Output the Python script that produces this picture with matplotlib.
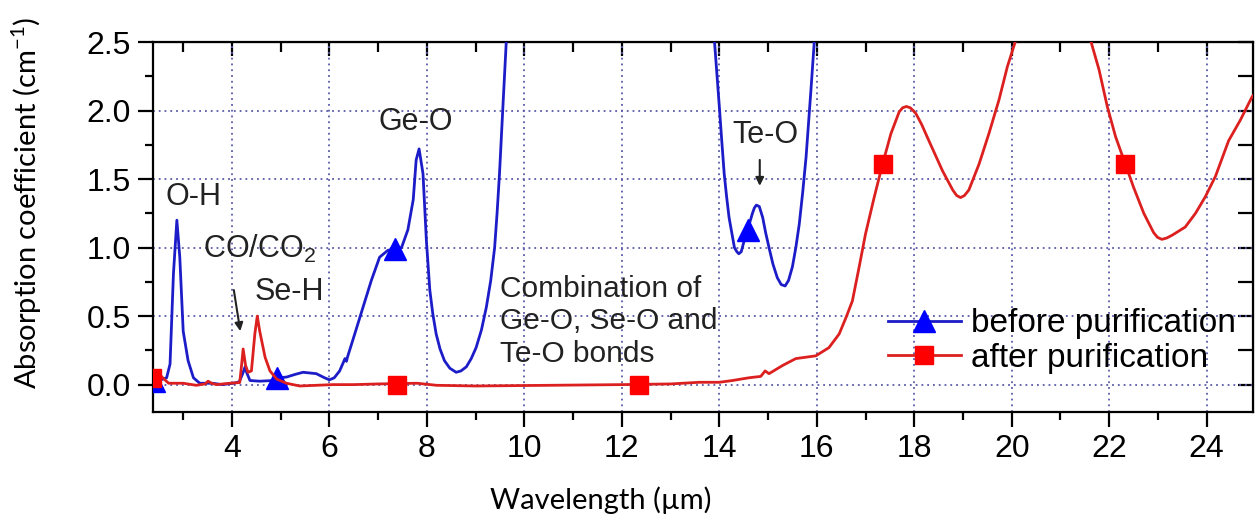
import numpy as np
import matplotlib
matplotlib.use("Agg")
import matplotlib.pyplot as plt
from matplotlib.ticker import MultipleLocator

# wavelength (um) / absorption (cm-1)
before_x = [2.38, 2.5, 2.66, 2.73, 2.80, 2.87, 2.93, 3.0, 3.10, 3.21, 3.34, 3.6, 3.8, 4.03, 4.15,
            4.22, 4.27, 4.30, 4.37, 4.57, 4.85, 4.95, 5.12, 5.30, 5.46, 5.73, 5.90, 6.0, 6.10,
            6.21, 6.32, 6.35, 6.37, 6.52, 6.69, 6.86, 7.03, 7.2, 7.34, 7.48, 7.61, 7.72, 7.78,
            7.84, 7.92, 7.99, 8.06, 8.12, 8.19, 8.27, 8.36, 8.47, 8.6, 8.7, 8.81, 8.91, 9.01,
            9.12, 9.22, 9.31, 9.39, 9.44, 9.49, 9.56, 9.63,
            9.8, 13.7, 13.9, 14.0, 14.05, 14.1, 14.15, 14.2, 14.31, 14.36, 14.4, 14.45, 14.51,
            14.58, 14.68, 14.72, 14.76, 14.82, 14.89, 14.95, 15.02, 15.1, 15.19, 15.27, 15.35,
            15.42, 15.5, 15.57, 15.64, 15.71, 15.78, 15.88, 15.95, 16.1]
before_y = [0.03, 0.03, 0.05, 0.15, 0.81, 1.20, 0.93, 0.39, 0.175, 0.05, 0.01, 0.01, 0.0, 0.01, 0.02,
            0.08, 0.13, 0.09, 0.03, 0.025, 0.03, 0.05, 0.055, 0.075, 0.09, 0.08, 0.05, 0.035, 0.05,
            0.10, 0.19, 0.17, 0.2, 0.37, 0.565, 0.76, 0.93, 0.98, 0.99, 1.0, 1.13, 1.35, 1.64,
            1.72, 1.54, 1.05, 0.69, 0.52, 0.37, 0.26, 0.175, 0.12, 0.09, 0.10, 0.13, 0.19, 0.27,
            0.40, 0.565, 0.76, 1.0, 1.25, 1.54, 2.03, 2.51,
            3.5, 3.5, 2.51, 2.03, 1.78, 1.54, 1.37, 1.22, 1.0, 0.97, 0.955, 0.97, 1.05,
            1.13, 1.25, 1.29, 1.31, 1.30, 1.22, 1.11, 1.0, 0.88, 0.78, 0.73, 0.72,
            0.76, 0.86, 1.0, 1.17, 1.4, 1.66, 2.15, 2.51, 3.5]

after_x = [2.38, 2.45, 2.5, 2.58, 2.7, 3.0, 3.27, 3.45, 3.51, 3.58, 3.68, 3.96, 4.16, 4.20, 4.23,
           4.28, 4.33, 4.40, 4.47, 4.52, 4.57, 4.68, 4.78, 4.92, 5.12, 5.39, 5.73, 6.07, 6.5,
           7.0, 7.8, 8.2, 9.0, 10.5, 12.0, 13.0, 13.59, 14.0, 14.27, 14.61, 14.85, 14.94, 15.02,
           15.3, 15.57, 15.98, 16.25, 16.46, 16.6, 16.73, 16.87, 17.0, 17.18, 17.35, 17.52,
           17.69, 17.76, 17.84, 17.92, 18.03, 18.15, 18.3, 18.58, 18.79, 18.87, 18.95, 19.03,
           19.12, 19.33, 19.53, 19.74, 19.91, 20.08, 20.4, 21.3, 21.62, 21.79, 21.96, 22.13,
           22.33, 22.5, 22.71, 22.91, 22.99, 23.08, 23.18, 23.29, 23.56, 23.77, 23.97, 24.18,
           24.45, 24.69, 24.93, 25.0]
after_y = [0.03, 0.07, 0.08, 0.05, 0.01, 0.01, -0.005, 0.005, 0.025, 0.01, 0.0, 0.01, 0.015, 0.15, 0.26,
           0.14, 0.09, 0.10, 0.37, 0.50, 0.39, 0.2, 0.1, 0.04, 0.01, -0.01, -0.005, 0.0, 0.0,
           0.005, 0.01, -0.005, -0.01, -0.005, 0.0, 0.005, 0.017, 0.017, 0.03, 0.05, 0.06, 0.10, 0.08,
           0.14, 0.19, 0.21, 0.27, 0.37, 0.49, 0.61, 0.86, 1.10, 1.37, 1.61, 1.83,
           1.99, 2.02, 2.03, 2.02, 1.98, 1.9, 1.78, 1.56, 1.42, 1.38, 1.365, 1.38,
           1.42, 1.61, 1.83, 2.08, 2.32, 2.51, 2.9, 2.9, 2.51, 2.3, 2.03, 1.81,
           1.61, 1.44, 1.25, 1.11, 1.075, 1.06, 1.07, 1.09, 1.15, 1.25, 1.37, 1.52,
           1.78, 1.93, 2.10, 2.13]

# symbol positions
tri_x = [2.40, 4.93, 7.34, 14.58]
tri_y = [0.03, 0.05, 0.99, 1.13]
sq_x = [2.36, 7.38, 12.36, 17.35, 22.33]
sq_y = [0.05, 0.0, 0.0, 1.61, 1.61]

blue = "#1c1cc8"
red = "#dc2020"
plt.rcParams["font.family"] = ["Liberation Sans", "DejaVu Sans"]
plt.rcParams["mathtext.default"] = "regular"

fig = plt.figure(figsize=(12.56, 5.14), dpi=100)
ax = fig.add_axes([0.1218, 0.1984, 0.8758, 0.7198])

ax.plot(before_x, before_y, color=blue, lw=2, zorder=3)
ax.plot(tri_x, tri_y, ls="none", marker="^", ms=16, color="#0000ff", zorder=4)
ax.plot(after_x, after_y, color=red, lw=2, zorder=5)
ax.plot(sq_x, sq_y, ls="none", marker="s", ms=13, color="#ff0000", zorder=6)

# legend handles
ax.plot([], [], color=blue, lw=2, marker="^", ms=16, mfc="#0000ff", mec="#0000ff",
        label="before purification")
ax.plot([], [], color=red, lw=2, marker="s", ms=13, mfc="#ff0000", mec="#ff0000",
        label="after purification")
ax.legend(loc="center left", bbox_to_anchor=(0.668, 0.192), frameon=False, fontsize=24,
          handlelength=2.2, handletextpad=0.3, labelspacing=0.1, borderpad=0, borderaxespad=0)

ax.set_xlim(2.38, 24.95)
ax.set_ylim(-0.2, 2.5)
ax.xaxis.set_major_locator(MultipleLocator(2))
ax.xaxis.set_minor_locator(MultipleLocator(1))
ax.yaxis.set_major_locator(MultipleLocator(0.5))
ax.yaxis.set_minor_locator(MultipleLocator(0.25))
ax.tick_params(which="major", direction="out", length=11, width=1.6, labelsize=23, pad=5)
ax.tick_params(which="minor", direction="out", length=6, width=1.6)
ax.set_yticks([0, 0.5, 1.0, 1.5, 2.0, 2.5])
ax.set_yticklabels(["0.0", "0.5", "1.0", "1.5", "2.0", "2.5"])
ax.grid(True, which="major", color="#5a5aa8", ls=(0, (1, 2.2)), lw=1.3)
for s in ax.spines.values():
    s.set_linewidth(1.6)

top = ax.secondary_xaxis("top")
top.xaxis.set_major_locator(MultipleLocator(2))
top.xaxis.set_minor_locator(MultipleLocator(1))
top.tick_params(which="major", direction="in", length=10, width=1.6, labelsize=0)
top.tick_params(which="minor", direction="in", length=7, width=1.6)
top.set_xticklabels([])
right = ax.secondary_yaxis("right")
right.yaxis.set_major_locator(MultipleLocator(0.25))
right.tick_params(which="major", direction="in", length=11, width=1.6)
right.set_yticklabels([])

txt = dict(fontsize=22, color="#222222")
ax.text(3.22, 1.37, "O-H", ha="center", va="center", **txt)
ax.text(3.41, 0.99, "CO/CO$_2$", ha="left", va="center", **txt)
ax.text(5.17, 0.675, "Se-H", ha="center", va="center", **txt)
ax.text(7.78, 1.92, "Ge-O", ha="center", va="center", **txt)
ax.text(14.94, 1.82, "Te-O", ha="center", va="center", **txt)
ax.text(9.49, 0.80, "Combination of\nGe-O, Se-O and\nTe-O bonds", ha="left", va="top",
        fontsize=21.5, color="#222222", linespacing=1.2)
ax.annotate("", xy=(4.18, 0.37), xytext=(4.03, 0.71),
            arrowprops=dict(arrowstyle="-|>", color="#222222", lw=1.5, mutation_scale=12))
ax.annotate("", xy=(14.83, 1.43), xytext=(14.83, 1.66),
            arrowprops=dict(arrowstyle="-|>", color="#222222", lw=1.5, mutation_scale=12))

fig.text(27 / 1256, 1 - 203 / 514, "Absorption coefficient (cm$^{-1}$)", rotation=90,
         ha="center", va="center", fontsize=21, family=["Lato", "DejaVu Sans"])
fig.text(601 / 1256, 1 - 500 / 514, "Wavelength (µm)", ha="center", va="center",
         fontsize=21, family=["Lato", "DejaVu Sans"])

fig.savefig("out.png", dpi=100)
